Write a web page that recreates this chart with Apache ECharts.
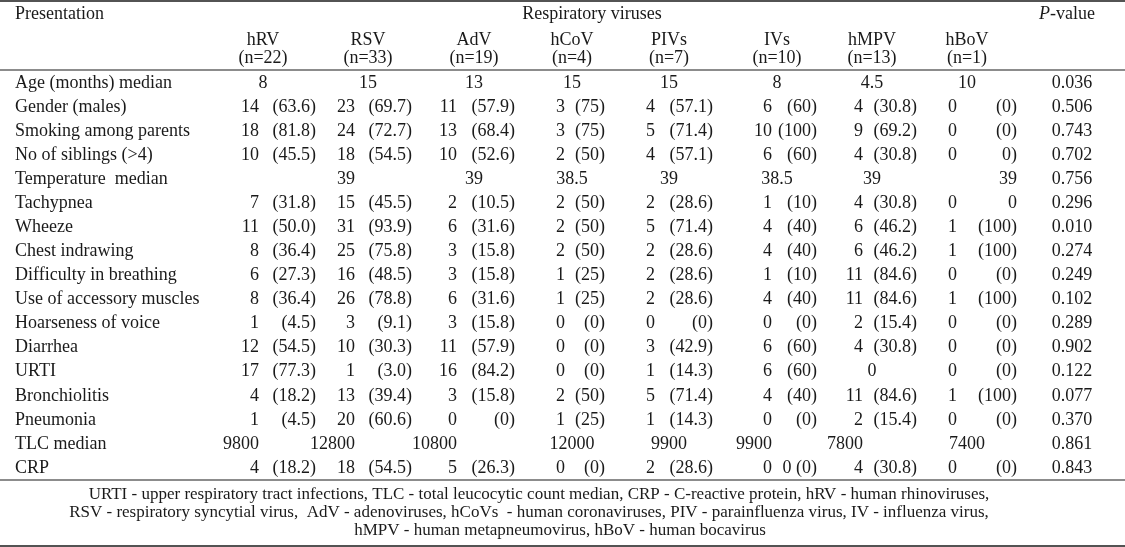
<!DOCTYPE html>
<html><head><meta charset="utf-8">
<script src="https://cdn.jsdelivr.net/npm/echarts@6/dist/echarts.min.js"></script>
<style>html,body{margin:0;padding:0;background:#fff}#c{width:1125px;height:547px}</style>
</head><body><div id="c"></div>
<script>
// ---------- DATA ----------
const rowLabels = ['Age (months) median','Gender (males)','Smoking among parents','No of siblings (>4)',
  'Temperature  median','Tachypnea','Wheeze','Chest indrawing','Difficulty in breathing',
  'Use of accessory muscles','Hoarseness of voice','Diarrhea','URTI','Bronchiolitis','Pneumonia',
  'TLC median','CRP'];
const viruses = ['hRV','RSV','AdV','hCoV','PIVs','IVs','hMPV','hBoV'];
const virusN = ['(n=22)','(n=33)','(n=19)','(n=4)','(n=7)','(n=10)','(n=13)','(n=1)'];
// "count|(percent)"; "a|" count only; "|b" percent only; plain = median value
const ageMedian   = ['8','15','13','15','15','8','4.5','10'];
const gender      = ['14|(63.6)','23|(69.7)','11|(57.9)','3|(75)','4|(57.1)','6|(60)','4|(30.8)','0|(0)'];
const smoking     = ['18|(81.8)','24|(72.7)','13|(68.4)','3|(75)','5|(71.4)','10|(100)','9|(69.2)','0|(0)'];
const siblings    = ['10|(45.5)','18|(54.5)','10|(52.6)','2|(50)','4|(57.1)','6|(60)','4|(30.8)','0|0)'];
const temperature = ['','39|','39','38.5','39','38.5','39','|39'];
const tachypnea   = ['7|(31.8)','15|(45.5)','2|(10.5)','2|(50)','2|(28.6)','1|(10)','4|(30.8)','0|0'];
const wheeze      = ['11|(50.0)','31|(93.9)','6|(31.6)','2|(50)','5|(71.4)','4|(40)','6|(46.2)','1|(100)'];
const chest       = ['8|(36.4)','25|(75.8)','3|(15.8)','2|(50)','2|(28.6)','4|(40)','6|(46.2)','1|(100)'];
const difficulty  = ['6|(27.3)','16|(48.5)','3|(15.8)','1|(25)','2|(28.6)','1|(10)','11|(84.6)','0|(0)'];
const accessory   = ['8|(36.4)','26|(78.8)','6|(31.6)','1|(25)','2|(28.6)','4|(40)','11|(84.6)','1|(100)'];
const hoarseness  = ['1|(4.5)','3|(9.1)','3|(15.8)','0|(0)','0|(0)','0|(0)','2|(15.4)','0|(0)'];
const diarrhea    = ['12|(54.5)','10|(30.3)','11|(57.9)','0|(0)','3|(42.9)','6|(60)','4|(30.8)','0|(0)'];
const urti        = ['17|(77.3)','1|(3.0)','16|(84.2)','0|(0)','1|(14.3)','6|(60)','0','0|(0)'];
const bronchiolitis = ['4|(18.2)','13|(39.4)','3|(15.8)','2|(50)','5|(71.4)','4|(40)','11|(84.6)','1|(100)'];
const pneumonia   = ['1|(4.5)','20|(60.6)','0|(0)','1|(25)','1|(14.3)','0|(0)','2|(15.4)','0|(0)'];
const tlcMedian   = ['9800|','12800|','10800|','12000','9900','9900|','7800|','7400'];
const crp         = ['4|(18.2)','18|(54.5)','5|(26.3)','0|(0)','2|(28.6)','0|0 (0)','4|(30.8)','0|(0)'];
const pValues = ['0.036','0.506','0.743','0.702','0.756','0.296','0.010','0.274','0.249','0.102',
  '0.289','0.902','0.122','0.077','0.370','0.861','0.843'];
const footerLines = [
  'URTI - upper respiratory tract infections, TLC - total leucocytic count median, CRP - C-reactive protein, hRV - human rhinoviruses,',
  'RSV - respiratory syncytial virus,  AdV - adenoviruses, hCoVs  - human coronaviruses, PIV - parainfluenza virus, IV - influenza virus,',
  'hMPV - human metapneumovirus, hBoV - human bocavirus'];

(function () {
// ---------- STYLE / LAYOUT ----------
const FONT = '"Liberation Serif","Times New Roman",serif';
const SIZE = 18;
const FOOT = 17;
const INK = '#1a1a1a';
const headShift = [0, 4.5, 10, 7.5, 4, 11.5, 6, 0.5, 0];
const countEdge = [-4, -8.5, -7, 0.5, -10, 6.5, -3, -9.5];
const pctEdge   = [53, 48.5, 51, 40.5, 48, 51.5, 51, 50.5];
const pShift = 5;

const rows = [ageMedian, gender, smoking, siblings, temperature, tachypnea, wheeze, chest,
  difficulty, accessory, hoarseness, diarrhea, urti, bronchiolitis, pneumonia, tlcMedian, crp];
const columns = viruses.concat(['P-value']);

const cells = [];
rows.forEach((r, ri) => {
  r.forEach((s, ci) => { if (s !== '') cells.push({ col: ci, row: ri, text: s }); });
  cells.push({ col: 8, row: ri, text: pValues[ri] });
});

function txt(x, y, text, align, size) {
  return { type: 'text', x: x, y: y,
    style: { text: text, font: (size || SIZE) + 'px ' + FONT, fill: INK,
      align: align, verticalAlign: 'middle', textAlign: align, textVerticalAlign: 'middle' } };
}

function renderItem(params, api) {
  const c = cells[params.dataIndex];
  const pt = api.coord([api.value(0), api.value(1)]);
  const bx = pt[0], y = pt[1];
  if (c.col === 8) return txt(bx + pShift, y, c.text, 'center');
  if (c.text.indexOf('|') >= 0) {
    const parts = c.text.split('|');
    const ch = [];
    if (parts[0]) ch.push(txt(bx + countEdge[c.col], y, parts[0], 'right'));
    if (parts[1]) ch.push(txt(bx + pctEdge[c.col], y, parts[1], 'right'));
    return { type: 'group', children: ch };
  }
  return txt(bx + headShift[c.col], y, c.text, 'center');
}

const rich = {};
columns.forEach((c, i) => {
  rich['h' + i] = { fontFamily: FONT, fontSize: SIZE, color: INK, lineHeight: 18,
    padding: [0, 0, 0, 2 * headShift[i]] };
});

const chart = echarts.init(document.getElementById('c'), null, { renderer: 'canvas' });
const GRID = { left: 263, right: 58, top: 71, bottom: 67 };
chart.setOption({
  animation: false,
  backgroundColor: '#fff',
  grid: GRID,
  xAxis: {
    type: 'category', data: columns, position: 'top', boundaryGap: false,
    axisLine: { show: false }, axisTick: { show: false }, splitLine: { show: false },
    axisLabel: {
      interval: 0, margin: 4, showMinLabel: true, showMaxLabel: true,
      formatter: function (v, i) { return i === 8 ? '' : '{h' + i + '|' + v + '}\n{h' + i + '|' + virusN[i] + '}'; },
      rich: rich
    }
  },
  yAxis: {
    type: 'category', data: rowLabels, inverse: true,
    axisLine: { show: false }, axisTick: { show: false }, splitLine: { show: false },
    axisLabel: { interval: 0, margin: GRID.left - 15, align: 'left',
      fontFamily: FONT, fontSize: SIZE, color: INK }
  },
  series: [{
    type: 'custom', renderItem: renderItem, coordinateSystem: 'cartesian2d',
    data: cells.map(c => [c.col, c.row]), silent: true
  }]
});

const pX = chart.convertToPixel({ gridIndex: 0 }, [8, 0])[0];
const gTop = GRID.top, gBot = 547 - GRID.bottom;
function hline(y, w) { return { type: 'line', shape: { x1: 0, y1: y, x2: 1125, y2: y }, style: { stroke: INK, lineWidth: w } }; }
chart.setOption({
  graphic: { elements: [
    hline(1, 1.5), hline(gTop - 1, 1.2), hline(gBot, 1.2), hline(546, 1.5),
    txt(15, 14, 'Presentation', 'left'),
    txt(592, 14, 'Respiratory viruses', 'center'),
    { type: 'text', x: pX, y: 14, style: {
        text: '{i|P}{r|-value}', align: 'center', verticalAlign: 'middle',
        textAlign: 'center', textVerticalAlign: 'middle',
        rich: { i: { fontFamily: FONT, fontSize: SIZE, fontStyle: 'italic', fill: INK, color: INK },
                r: { fontFamily: FONT, fontSize: SIZE, fill: INK, color: INK } } } },
    txt(539, 495, footerLines[0], 'center', FOOT),
    txt(529, 513, footerLines[1], 'center', FOOT),
    txt(560, 531, footerLines[2], 'center', FOOT)
  ] }
});
})();
</script></body></html>
